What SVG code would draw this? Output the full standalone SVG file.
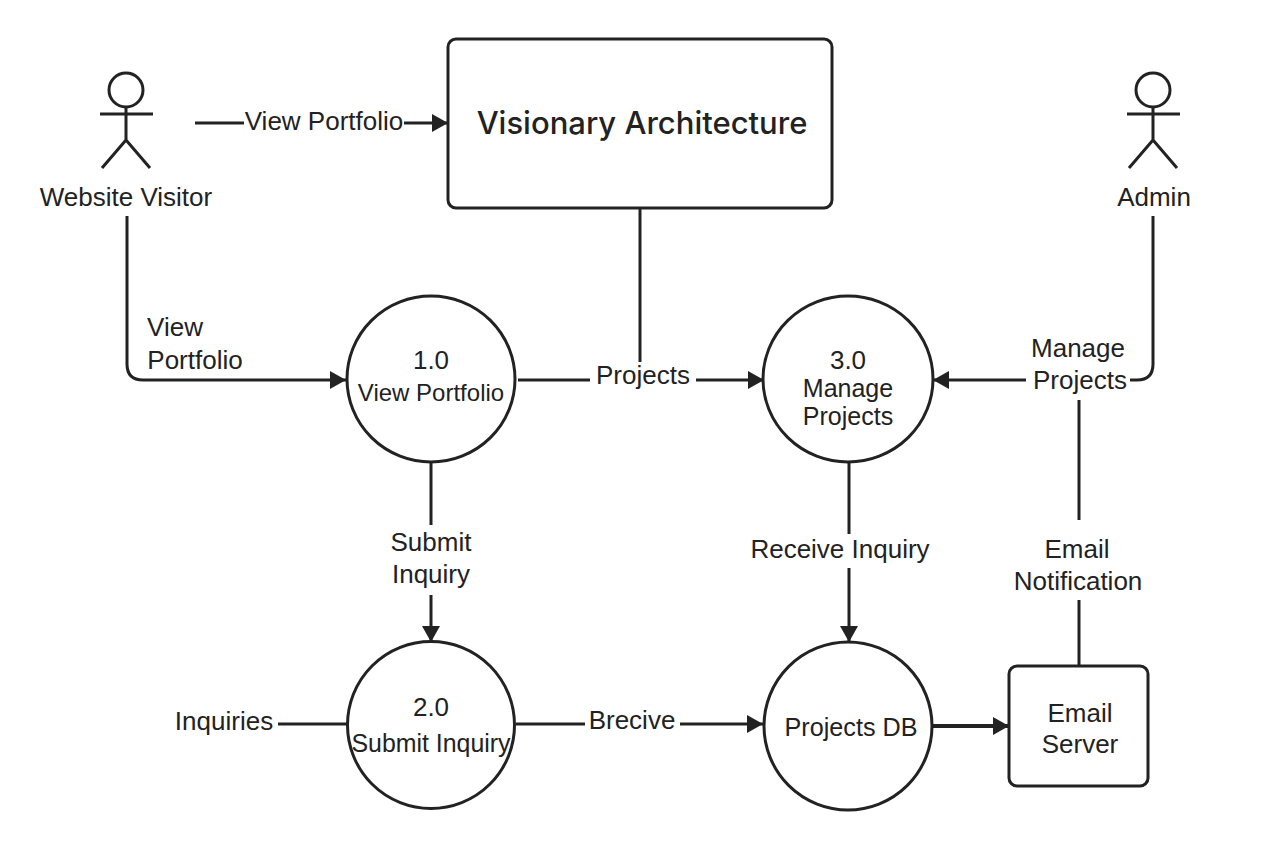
<svg xmlns="http://www.w3.org/2000/svg" width="1280" height="853" viewBox="0 0 1280 853">
<style>
text{font-family:"Liberation Sans",Arial,sans-serif;fill:#222;text-anchor:middle;font-size:26px}
.n{fill:#fff;stroke:#222;stroke-width:3}
.c{fill:none;stroke:#222;stroke-width:3}
.a{marker-end:url(#arr)}
</style>
<defs><marker id="arr" markerUnits="userSpaceOnUse" markerWidth="18" markerHeight="20" refX="16" refY="10" orient="auto"><path d="M0 1L16 10L0 19z" fill="#222"/></marker></defs>
<rect width="1280" height="853" fill="#fff"/>
<g id="connectors">
<path class="c a" d="M195 123H244M404 123H448"/>
<path class="c a" d="M127 216V364Q127 380 143 380H346"/>
<path class="c" d="M640 208V362"/>
<path class="c a" d="M518 380H590M696 380H764"/>
<path class="c a" d="M1153 216V364Q1153 380 1137 380H1130M1026 380H933"/>
<path class="c" d="M1079 400V520M1079 600V666"/>
<path class="c a" d="M431 462V525M431 595V642"/>
<path class="c a" d="M849 462V534M849 568V642"/>
<path class="c" d="M278 724H347"/>
<path class="c a" d="M516 724H585M680 724H763"/>
<path class="c a" style="stroke-width:4" d="M933 726H1009"/>
</g>
<g id="visitor"><circle class="c" cx="126" cy="90" r="17"/><path class="c" d="M126 107V140M100 114H153M126 140L102 168M126 140L150 168"/><text x="126" y="206">Website Visitor</text></g>
<g id="admin"><circle class="c" cx="1153" cy="90" r="17"/><path class="c" d="M1153 107V140M1127 114H1180M1153 140L1129 168M1153 140L1177 168"/><text x="1154" y="206">Admin</text></g>
<g id="system"><rect class="n" x="448" y="39" width="384" height="169" rx="8"/><text x="642" y="134" style="font-family:Inter,'Liberation Sans',sans-serif;font-size:31px;font-weight:500">Visionary Architecture</text></g>
<g id="p1"><ellipse class="n" cx="431" cy="379" rx="84" ry="83"/><text x="431" y="369" style="font-size:26px">1.0</text><text x="431" y="401" style="font-size:24px">View Portfolio</text></g>
<g id="p2"><circle class="n" cx="431" cy="725" r="83.500"/><text x="431" y="716" style="font-size:26px">2.0</text><text x="431" y="752" style="font-size:24.9px">Submit Inquiry</text></g>
<g id="p3"><ellipse class="n" cx="848" cy="379" rx="85" ry="83"/><text x="848" y="369" style="font-size:26px">3.0</text><text x="848" y="397" style="font-size:25px">Manage</text><text x="848" y="425" style="font-size:25px">Projects</text></g>
<g id="db"><circle class="n" cx="848" cy="726" r="84"/><text x="851" y="736" style="font-size:25.2px">Projects DB</text></g>
<g id="email"><rect class="n" x="1009" y="666" width="139" height="120" rx="8"/><text x="1080" y="722">Email</text><text x="1080" y="753">Server</text></g>
<g id="labels">
<text x="324" y="130">View Portfolio</text>
<text x="175" y="336">View</text><text x="195" y="369">Portfolio</text>
<text x="643" y="384">Projects</text>
<text x="1078" y="357">Manage</text><text x="1080" y="389">Projects</text>
<text x="431" y="551">Submit</text><text x="431" y="583">Inquiry</text>
<text x="840" y="558">Receive Inquiry</text>
<text x="1077" y="558">Email</text><text x="1078" y="590">Notification</text>
<text x="224" y="730">Inquiries</text>
<text x="632" y="729">Brecive</text>
</g>
</svg>
